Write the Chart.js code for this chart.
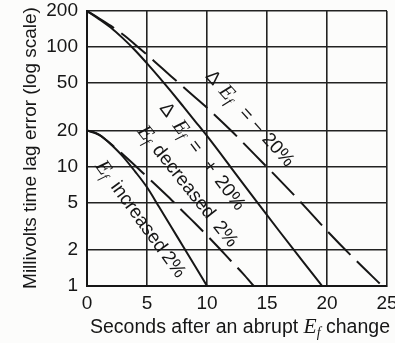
<!DOCTYPE html>
<html>
<head>
<meta charset="utf-8">
<script src="https://cdn.jsdelivr.net/npm/chart.js@4.4.1/dist/chart.umd.min.js"></script>
<style>
  html, body { margin: 0; padding: 0; background: #fcfcfb; }
  #wrap { width: 395px; height: 343px; }
</style>
</head>
<body>
<div id="wrap"><canvas id="chart"></canvas></div>
<script>
// values (seconds vs. millivolts, log y)
const xTicks = [0, 5, 10, 15, 20, 25];
const yTicks = [1, 2, 5, 10, 20, 50, 100, 200];

// ΔEf = +20%  (solid, upper)
const tPlus20 = [0, 1, 2, 3, 4, 5, 6, 7, 8, 9, 10, 12, 14, 16, 18, 19.6];
const vPlus20 = [200, 171, 145, 118, 94, 73, 56, 42.5, 32, 24, 18, 9.8, 5.3, 2.9, 1.6, 1];

// ΔEf = -20%  (dashed, upper)
const tMinus20 = [0, 1, 2, 3, 4, 5, 6, 7, 8, 9, 10, 12, 14, 16, 18, 20, 22, 24.6];
const vMinus20 = [200, 174, 150, 127, 105, 86, 70, 57, 46.5, 38, 31, 20, 12.5, 7.8, 4.8, 2.9, 1.8, 1];

// Ef increased 2%  (solid, lower)
const tInc = [0, 0.5, 1, 1.5, 2, 3, 4, 5, 6, 7, 8, 9, 10];
const vInc = [20, 19.5, 18.5, 17, 15.3, 12.1, 9.1, 6.7, 4.6, 3.15, 2.15, 1.47, 1];

// Ef decreased 2%  (dashed, lower)
const tDec = [0, 1, 2, 3, 4, 5, 6, 7, 8, 9, 10, 11, 12, 13, 13.9];
const vDec = [20, 18.4, 15.4, 12.6, 10.2, 8.2, 6.6, 5.3, 4.2, 3.35, 2.65, 2.08, 1.62, 1.27, 1];

const SANS = '"Liberation Sans", Arial, sans-serif';
const SERIF = '"Liberation Serif", "Times New Roman", serif';
const INK = '#161616';

function curve(ts, vs, dashed) {
    return {
        data: ts.map((t, i) => ({ x: t, y: vs[i] })),
        borderColor: INK,
        borderWidth: 2,
        borderDash: dashed ? [32, 9] : [],
        pointRadius: 0,
        cubicInterpolationMode: "monotone",
        fill: false,
    };
}

// text written along the curves: anchor (data coords), angle, pieces at distance s
const curveLabels = [
    { at: [10.5, 55], angle: 48, parts: [["Δ", 0], ["E", 20, "it"], ["f", 28, "sub"], ["=", 49], ["−", 66], ["20%", 97]] },
    { at: [6.67, 29.7], angle: 53, parts: [["Δ", 0], ["E", 22, "it"], ["f", 30, "sub"], ["=", 46], ["+", 71], ["20%", 104]] },
    { at: [4.83, 19], angle: 51.5, parts: [["E", 0, "it"], ["f", 8, "sub"], ["decreased", 62], ["2%", 129]] },
    { at: [1.33, 9.7], angle: 54, parts: [["E", 0, "it"], ["f", 8, "sub"], ["increased", 60.6], ["2%", 119.6]] },
];

const paper = {
    id: "paper",
    beforeDraw(chart) {
        const ctx = chart.ctx;
        ctx.save();
        ctx.fillStyle = "#fcfcfb";
        ctx.fillRect(0, 0, chart.width, chart.height);
        ctx.restore();
    },
};

function setPart(ctx, kind, size) {
    size = size || 19;
    if (kind === "it") ctx.font = "italic " + (size + 2) + "px " + SERIF;
    else if (kind === "sub") ctx.font = "italic 14px " + SERIF;
    else ctx.font = size + "px " + SANS;
}

const annotations = {
    id: "annotations",
    afterDraw(chart) {
        const ctx = chart.ctx;
        const xs = chart.scales.x, ys = chart.scales.y;
        ctx.save();
        ctx.fillStyle = INK;

        // labels along curves
        ctx.textAlign = "center";
        ctx.textBaseline = "middle";
        curveLabels.forEach(lab => {
            ctx.save();
            ctx.translate(xs.getPixelForValue(lab.at[0]), ys.getPixelForValue(lab.at[1]));
            ctx.rotate(lab.angle * Math.PI / 180);
            lab.parts.forEach(([txt, s, kind]) => {
                setPart(ctx, kind);
                ctx.fillText(txt, s, kind === "sub" ? 5 : 0);
            });
            ctx.restore();
        });

        // y title
        ctx.save();
        ctx.translate(31, 148);
        ctx.rotate(-Math.PI / 2);
        ctx.font = "19px " + SANS;
        ctx.fillText("Millivolts time lag error (log scale)", 0, 0);
        ctx.restore();

        // x title with italic E_f
        const pieces = [["Seconds after an abrupt ", ""], ["E", "it"], ["f", "sub"], [" change", ""]];
        let total = 0;
        pieces.forEach(([t, k]) => { setPart(ctx, k, 19.5); total += ctx.measureText(t).width; });
        let x = 240 - total / 2;
        ctx.textAlign = "left";
        ctx.textBaseline = "alphabetic";
        pieces.forEach(([t, k]) => {
            setPart(ctx, k, 19.5);
            ctx.fillText(t, x, k === "sub" ? 337 : 333);
            x += ctx.measureText(t).width;
        });
        ctx.restore();
    },
};

new Chart(document.getElementById("chart"), {
    type: "line",
    data: {
        datasets: [
            curve(tPlus20, vPlus20, false),
            curve(tMinus20, vMinus20, true),
            curve(tInc, vInc, false),
            curve(tDec, vDec, true),
        ],
    },
    options: {
        responsive: true,
        maintainAspectRatio: false,
        animation: false,
        layout: { padding: { top: 11, right: 8, left: 0, bottom: 0 } },
        plugins: { legend: { display: false }, tooltip: { enabled: false } },
        scales: {
            x: {
                type: "linear",
                min: 0,
                max: 25,
                afterBuildTicks: s => { s.ticks = xTicks.map(v => ({ value: v })); },
                afterFit: s => { s.height = 57; s.paddingLeft = 0; s.paddingRight = 0; },
                ticks: { color: INK, font: { family: SANS, size: 19 }, padding: 6, maxRotation: 0 },
                grid: { color: "#222", lineWidth: 1.6, drawTicks: false },
                border: { color: INK, width: 2 },
            },
            y: {
                type: "logarithmic",
                min: 1,
                max: 200,
                afterBuildTicks: s => { s.ticks = yTicks.map(v => ({ value: v })); },
                afterFit: s => { s.width = 87; s.paddingTop = 0; s.paddingBottom = 0; },
                ticks: { color: INK, font: { family: SANS, size: 19 }, padding: 9, callback: v => String(v) },
                grid: { color: "#222", lineWidth: 1.6, drawTicks: false },
                border: { color: INK, width: 2 },
            },
        },
    },
    plugins: [paper, annotations],
});
</script>
</body>
</html>
